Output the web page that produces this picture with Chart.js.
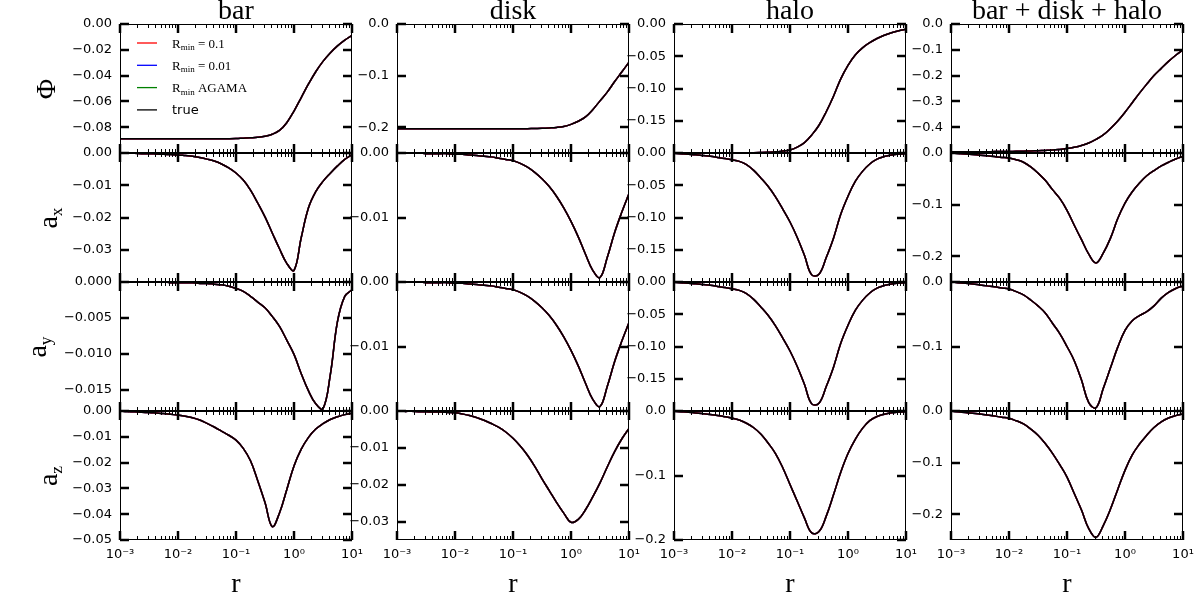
<!DOCTYPE html>
<html>
<head>
<meta charset="utf-8">
<script src="https://cdn.jsdelivr.net/npm/chart.js@4.4.1/dist/chart.umd.min.js"></script>
<style>
html, body { margin: 0; padding: 0; background: #fff; }
#fig { position: relative; width: 1200px; height: 600px; overflow: hidden; background: #fff; }
#fig canvas { position: absolute; }
.lbl { position: absolute; font-family: "Liberation Serif", serif; font-size: 28px; line-height: 28px; white-space: nowrap; color: #000; }
.sub { font-size: 0.62em; position: relative; top: 0.28em; }
</style>
</head>
<body>
<div id="fig"></div>
<script>
// radius grid (log spaced, 8 per decade)
const rValues = [0.001, 0.001334, 0.001778, 0.002371, 0.003162, 0.004217, 0.005623, 0.007499,
                 0.01, 0.01334, 0.01778, 0.02371, 0.03162, 0.04217, 0.05623, 0.07499,
                 0.1, 0.1334, 0.1778, 0.2371, 0.3162, 0.4217, 0.5623, 0.7499,
                 1, 1.334, 1.778, 2.371, 3.162, 4.217, 5.623, 7.499, 10];

// potential
const barPhi = [-0.089, -0.089, -0.089, -0.089, -0.089, -0.089, -0.089, -0.089, -0.089, -0.089, -0.089, -0.089, -0.089,
                -0.089, -0.0889, -0.0889, -0.0888, -0.0885, -0.0882, -0.0878, -0.087, -0.0855, -0.0825, -0.0765,
                -0.0675, -0.057, -0.0465, -0.037, -0.029, -0.0225, -0.017, -0.0125, -0.0088];
const diskPhi = [-0.203, -0.203, -0.203, -0.203, -0.203, -0.203, -0.203, -0.203, -0.203, -0.203, -0.203, -0.203,
                 -0.203, -0.203, -0.203, -0.203, -0.203, -0.203, -0.2028, -0.2025, -0.2022, -0.2015, -0.2005, -0.1985,
                 -0.1945, -0.1885, -0.18, -0.166, -0.149, -0.132, -0.112, -0.093, -0.074];
const haloPhi = [-0.2, -0.2, -0.2, -0.2, -0.2, -0.1999, -0.1999, -0.1998, -0.1998, -0.1997, -0.1996, -0.1995,
                 -0.1992, -0.1988, -0.1982, -0.197, -0.1955, -0.191, -0.184, -0.172, -0.157, -0.136, -0.112, -0.085,
                 -0.064, -0.048, -0.037, -0.029, -0.0225, -0.0175, -0.0135, -0.0105, -0.0083];
const totPhi = [-0.495, -0.495, -0.495, -0.495, -0.495, -0.4948, -0.4946, -0.4944, -0.494, -0.4935, -0.493, -0.4922,
                -0.4912, -0.49, -0.4885, -0.486, -0.483, -0.478, -0.471, -0.461, -0.447, -0.43, -0.405, -0.376,
                -0.342, -0.305, -0.268, -0.233, -0.2, -0.172, -0.145, -0.121, -0.1];

// x acceleration
const barAx = [0, -0.0001, -0.0001, -0.0002, -0.0002, -0.0003, -0.0004, -0.0005, -0.0006, -0.0008, -0.001, -0.0014,
               -0.0019, -0.0025, -0.0034, -0.0046, -0.0062, -0.0084, -0.0115, -0.0155, -0.0198, -0.0248, -0.0297, -0.0342,
               -0.0364, -0.0262, -0.017, -0.012, -0.0088, -0.0063, -0.004, -0.002, -0.0005];
const diskAx = [0, 0, 0, 0, -0.0001, -0.0001, -0.0001, -0.0001, -0.0002, -0.0002, -0.0003, -0.0004,
                -0.0005, -0.0006, -0.0008, -0.0010, -0.0012, -0.0016, -0.0022, -0.003, -0.004, -0.0052, -0.0067, -0.0085,
                -0.0106, -0.013, -0.0157, -0.0182, -0.0193, -0.0162, -0.0124, -0.0092, -0.0063];
const haloAx = [-0.0005, -0.0012, -0.002, -0.0028, -0.004, -0.0052, -0.0068, -0.0085, -0.0105, -0.013, -0.018, -0.027,
                -0.039, -0.052, -0.068, -0.087, -0.107, -0.131, -0.159, -0.189, -0.188, -0.162, -0.132, -0.095,
                -0.067, -0.044, -0.0285, -0.017, -0.0095, -0.0055, -0.003, -0.0015, -0.0008];
const totAx = [0, -0.001, -0.002, -0.003, -0.0042, -0.0055, -0.007, -0.0085, -0.0097, -0.013, -0.018, -0.027,
               -0.039, -0.053, -0.071, -0.088, -0.111, -0.14, -0.168, -0.196, -0.213, -0.194, -0.165, -0.127,
               -0.097, -0.075, -0.058, -0.044, -0.034, -0.025, -0.018, -0.0115, -0.0065];

// y acceleration
const barAy = [0, 0, 0, 0, 0, 0, 0, -0.0001, -0.0001, -0.0001, -0.0001, -0.0002,
               -0.0002, -0.0003, -0.0004, -0.0006, -0.0009, -0.0013, -0.002, -0.0028, -0.0036, -0.0048, -0.0062, -0.0081,
               -0.0101, -0.0128, -0.0152, -0.017, -0.0177, -0.013, -0.0055, -0.002, -0.0011];
const diskAy = diskAx;
const haloAy = haloAx;
const totAy = [0, -0.001, -0.002, -0.003, -0.0045, -0.006, -0.0075, -0.0093, -0.011, -0.015, -0.02, -0.028,
               -0.037, -0.048, -0.064, -0.08, -0.1, -0.122, -0.152, -0.187, -0.195, -0.165, -0.133, -0.101,
               -0.075, -0.06, -0.052, -0.046, -0.037, -0.025, -0.016, -0.01, -0.006];

// z acceleration
const barAz = [0, -0.0002, -0.0003, -0.0005, -0.0006, -0.0008, -0.001, -0.0013, -0.0016, -0.002, -0.0026, -0.0035,
               -0.0048, -0.0062, -0.0078, -0.0094, -0.0113, -0.0145, -0.0193, -0.027, -0.0355, -0.0448, -0.0395, -0.0305,
               -0.0213, -0.0148, -0.0102, -0.007, -0.0049, -0.0033, -0.0022, -0.0014, -0.0009];
const diskAz = [0, -0.0001, -0.0001, -0.0002, -0.0002, -0.0003, -0.0003, -0.0004, -0.0005, -0.0008, -0.0012, -0.0018,
                -0.0025, -0.0034, -0.0044, -0.0057, -0.0074, -0.0095, -0.012, -0.015, -0.0184, -0.0216, -0.0248, -0.0277,
                -0.0302, -0.0294, -0.0268, -0.0233, -0.0195, -0.0152, -0.0111, -0.0076, -0.0047];
const haloAz = [-0.0005, -0.0012, -0.002, -0.003, -0.0042, -0.0055, -0.007, -0.0088, -0.011, -0.014, -0.019, -0.026,
                -0.036, -0.05, -0.066, -0.088, -0.114, -0.14, -0.166, -0.189, -0.187, -0.163, -0.13, -0.095,
                -0.066, -0.044, -0.027, -0.015, -0.0085, -0.005, -0.0028, -0.0015, -0.0008];
const totAz = [0, -0.0015, -0.003, -0.0045, -0.006, -0.0078, -0.0098, -0.012, -0.014, -0.019, -0.025, -0.035,
               -0.047, -0.063, -0.082, -0.104, -0.128, -0.16, -0.192, -0.228, -0.245, -0.222, -0.19, -0.152,
               -0.115, -0.085, -0.064, -0.047, -0.032, -0.021, -0.0135, -0.009, -0.0058];

// tick labels
const xTickValues = [0.001, 0.01, 0.1, 1, 10];
const xTickLabels = ['10⁻³', '10⁻²', '10⁻¹', '10⁰', '10¹'];
const barPhiTicks = ['0.00', '−0.02', '−0.04', '−0.06', '−0.08'];
const diskPhiTicks = ['0.0', '−0.1', '−0.2'];
const haloPhiTicks = ['0.00', '−0.05', '−0.10', '−0.15'];
const totPhiTicks = ['0.0', '−0.1', '−0.2', '−0.3', '−0.4'];
const barAxTicks = ['0.00', '−0.01', '−0.02', '−0.03'];
const diskAxTicks = ['0.00', '−0.01'];
const haloAxTicks = ['0.00', '−0.05', '−0.10', '−0.15'];
const totAxTicks = ['0.0', '−0.1', '−0.2'];
const barAyTicks = ['0.000', '−0.005', '−0.010', '−0.015'];
const diskAyTicks = ['0.00', '−0.01'];
const haloAyTicks = ['0.00', '−0.05', '−0.10', '−0.15'];
const totAyTicks = ['0.0', '−0.1'];
const barAzTicks = ['0.00', '−0.01', '−0.02', '−0.03', '−0.04', '−0.05'];
const diskAzTicks = ['0.00', '−0.01', '−0.02', '−0.03'];
const haloAzTicks = ['0.0', '−0.1', '−0.2'];
const totAzTicks = ['0.0', '−0.1', '−0.2'];

// axis lower limits (upper is 0 everywhere)
const yMins = [[-0.1, -0.25, -0.2, -0.5],
               [-0.04, -0.02, -0.2, -0.25],
               [-0.018, -0.02, -0.2, -0.2],
               [-0.05, -0.035, -0.2, -0.25]];

const columnTitles = ['bar', 'disk', 'halo', 'bar + disk + halo'];
const rowLabels = ['Φ', 'a_x', 'a_y', 'a_z'];
const legendLabels = ['R_min = 0.1', 'R_min = 0.01', 'R_min AGAMA', 'true'];
const seriesColors = ['#ff0000', '#0000ff', '#008000', '#000000'];

const panelData = [[barPhi, diskPhi, haloPhi, totPhi],
                   [barAx, diskAx, haloAx, totAx],
                   [barAy, diskAy, haloAy, totAy],
                   [barAz, diskAz, haloAz, totAz]];
const panelTicks = [[barPhiTicks, diskPhiTicks, haloPhiTicks, totPhiTicks],
                    [barAxTicks, diskAxTicks, haloAxTicks, totAxTicks],
                    [barAyTicks, diskAyTicks, haloAyTicks, totAyTicks],
                    [barAzTicks, diskAzTicks, haloAzTicks, totAzTicks]];

// layout
const colLeft = [120, 397, 674, 951];
const rowTop = [24, 153, 282, 411];
const plotW = 232, plotH = 129;
const AXW = 80, PADT = 12, PADR = 15;
const yLabelX = [46, 49.5, 38.5, 49.5];
const tickFont = { family: '"DejaVu Sans", sans-serif', size: 13, weight: 'normal' };

function seg(ctx, x1, y1, x2, y2) {
    ctx.beginPath();
    ctx.moveTo(x1, y1);
    ctx.lineTo(x2, y2);
    ctx.stroke();
}

// inward ticks on all four sides + frame
const frameTicks = {
    id: 'frameTicks',
    afterDraw(chart) {
        const { ctx, chartArea: a, scales: { x, y } } = chart;
        ctx.save();
        ctx.strokeStyle = '#000';
        ctx.lineWidth = 1;
        for (let e = -3; e < 1; e++) {
            for (let k = 2; k <= 9; k++) {
                const px = Math.round(x.getPixelForValue(k * Math.pow(10, e))) + 0.5;
                seg(ctx, px, a.top, px, a.top + 4);
                seg(ctx, px, a.bottom, px, a.bottom - 4);
            }
        }
        ctx.lineWidth = 2.5;
        x.ticks.forEach(t => {
            const px = Math.round(x.getPixelForValue(t.value));
            seg(ctx, px, a.top, px, a.top + 9);
            seg(ctx, px, a.bottom, px, a.bottom - 9);
        });
        y.ticks.forEach(t => {
            const py = Math.round(y.getPixelForValue(t.value));
            seg(ctx, a.left, py, a.left + 9, py);
            seg(ctx, a.right, py, a.right - 9, py);
        });
        ctx.lineWidth = 1;
        ctx.strokeRect(a.left + 0.5, a.top + 0.5, a.right - a.left - 1, a.bottom - a.top - 1);
        ctx.restore();
    }
};

// legend drawn inside the first panel
const insetLegend = {
    id: 'insetLegend',
    afterDatasetsDraw(chart) {
        const { ctx, chartArea: a } = chart;
        ctx.save();
        chart.data.datasets.forEach((ds, i) => {
            const yy = a.top + 19 + i * 22.3;
            ctx.strokeStyle = ds.borderColor;
            ctx.lineWidth = 1.3;
            seg(ctx, a.left + 17, yy, a.left + 37, yy);
            ctx.fillStyle = '#000';
            ctx.textBaseline = 'alphabetic';
            let tx = a.left + 52;
            const parts = ds.label.split('_min');
            if (parts.length === 2) {
                ctx.font = '13px "Liberation Serif"';
                ctx.fillText(parts[0], tx, yy + 4.5);
                tx += ctx.measureText(parts[0]).width;
                ctx.font = '9px "Liberation Serif"';
                ctx.fillText('min', tx, yy + 7);
                tx += ctx.measureText('min').width;
                ctx.font = '13px "Liberation Serif"';
                ctx.fillText(parts[1], tx, yy + 4.5);
            } else {
                ctx.font = '13px "DejaVu Sans", sans-serif';
                ctx.fillText(ds.label, tx, yy + 4.5);
            }
        });
        ctx.restore();
    }
};

const fig = document.getElementById('fig');

function addLabel(html, css) {
    const d = document.createElement('div');
    d.className = 'lbl';
    d.innerHTML = html;
    Object.assign(d.style, css);
    fig.appendChild(d);
}

for (let r = 0; r < 4; r++) {
    for (let c = 0; c < 4; c++) {
        const isBottom = r === 3;
        const xh = isBottom ? 30 : 4;
        const canvas = document.createElement('canvas');
        canvas.width = AXW + plotW + PADR;
        canvas.height = PADT + plotH + xh;
        canvas.style.left = (colLeft[c] - AXW) + 'px';
        canvas.style.top = (rowTop[r] - PADT) + 'px';
        canvas.style.width = canvas.width + 'px';
        canvas.style.height = canvas.height + 'px';
        fig.appendChild(canvas);

        const values = panelData[r][c];
        const tickLabels = panelTicks[r][c];
        const tickVals = tickLabels.map(s => parseFloat(s.replace('−', '-')));
        const points = rValues.map((rv, i) => ({ x: rv, y: values[i] }));

        const datasets = legendLabels.map((lab, i) => ({
            label: lab,
            data: points,
            borderColor: seriesColors[i],
            borderWidth: 1.5,
            pointRadius: 0,
            fill: false,
            tension: 0.4,
            order: i === 3 ? 0 : 1
        }));

        new Chart(canvas, {
            type: 'line',
            data: { datasets: datasets },
            options: {
                responsive: false,
                animation: false,
                devicePixelRatio: 1,
                layout: { padding: { top: PADT, right: PADR, left: 0, bottom: 0 }, autoPadding: false },
                plugins: { legend: { display: false }, tooltip: { enabled: false } },
                scales: {
                    x: {
                        type: 'logarithmic',
                        min: 0.001,
                        max: 10,
                        grid: { display: false, drawTicks: false },
                        border: { display: false },
                        ticks: {
                            display: isBottom,
                            padding: 7,
                            maxRotation: 0,
                            autoSkip: false,
                            color: '#000',
                            font: tickFont,
                            callback: (v, i) => xTickLabels[i]
                        },
                        afterBuildTicks: s => { s.ticks = xTickValues.map(v => ({ value: v })); },
                        afterFit: s => { s.height = xh; s.paddingLeft = 0; s.paddingRight = 0; }
                    },
                    y: {
                        type: 'linear',
                        min: yMins[r][c],
                        max: 0,
                        grid: { display: false, drawTicks: false },
                        border: { display: false },
                        ticks: {
                            padding: 8,
                            autoSkip: false,
                            color: '#000',
                            font: tickFont,
                            callback: (v, i) => tickLabels[i]
                        },
                        afterBuildTicks: s => { s.ticks = tickVals.map(v => ({ value: v })); },
                        afterFit: s => { s.width = AXW; s.paddingTop = 0; s.paddingBottom = 0; }
                    }
                }
            },
            plugins: r === 0 && c === 0 ? [frameTicks, insetLegend] : [frameTicks]
        });
    }
}

// column titles and x labels
columnTitles.forEach((t, c) => {
    const cx = colLeft[c] + plotW / 2;
    addLabel(t, { left: cx + 'px', top: '-4.5px', transform: 'translateX(-50%)' });
    addLabel('r', { left: cx + 'px', top: '569px', transform: 'translateX(-50%)' });
});

// row labels (rotated)
rowLabels.forEach((t, r) => {
    const parts = t.split('_');
    const html = parts.length === 2 ? parts[0] + '<span class="sub">' + parts[1] + '</span>' : t;
    const cy = rowTop[r] + plotH / 2;
    addLabel(html, { left: yLabelX[r] + 'px', top: cy + 'px', transform: 'translate(-50%, -50%) rotate(-90deg)' });
});
</script>
</body>
</html>
